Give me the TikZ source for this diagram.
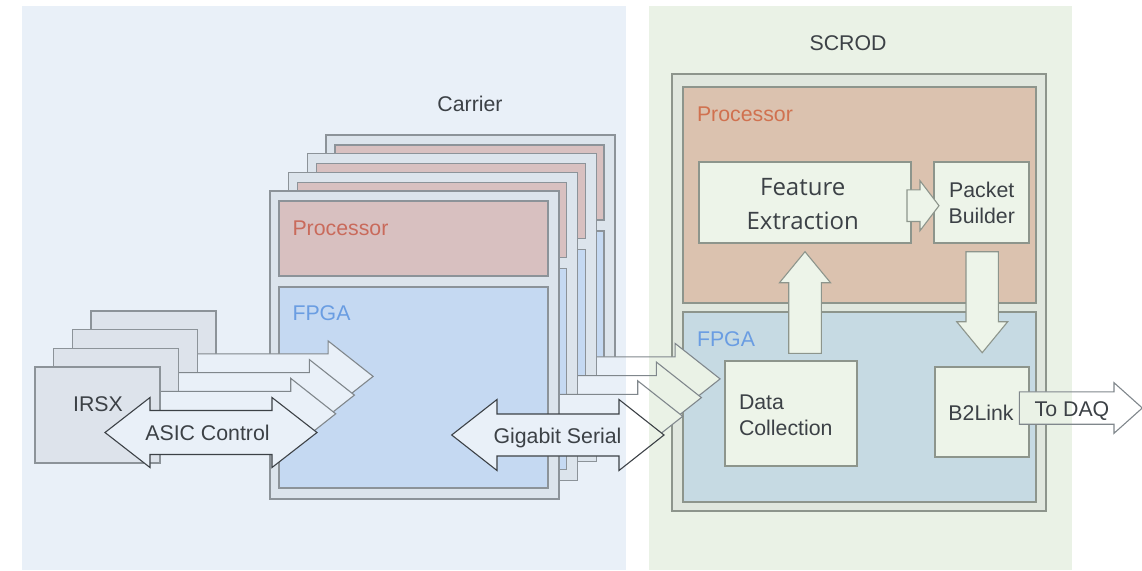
\documentclass[tikz,border=0pt]{standalone}
\usepackage{fontspec}
\setmainfont{Liberation Sans}
\newfontfamily\featfont{Open Sans}
\usetikzlibrary{fit}

\definecolor{bgblue}{HTML}{E9F0F8}
\definecolor{bggreen}{HTML}{EAF2E6}
\definecolor{boardfill}{HTML}{DCE4EC}
\definecolor{boardline}{HTML}{8C9399}
\definecolor{procfill}{HTML}{D8C0C0}
\definecolor{fpgafill}{HTML}{C5D9F2}
\definecolor{asicfill}{HTML}{DDE3EB}
\definecolor{scrodfill}{HTML}{E0E7DE}
\definecolor{scrodline}{HTML}{8D958C}
\definecolor{sprocfill}{HTML}{DBC2AF}
\definecolor{sfpgafill}{HTML}{C6DAE3}
\definecolor{blockfill}{HTML}{EDF4E9}
\definecolor{txt}{HTML}{3C4146}
\definecolor{proctxt}{HTML}{C96A5B}
\definecolor{sproctxt}{HTML}{D0714F}
\definecolor{fpgatxt}{HTML}{6A9DE2}
\definecolor{arrowline}{HTML}{80878C}
\definecolor{darkline}{HTML}{3C4146}

% right-pointing block arrow: tail x, head base x, tip x, centre y, half shaft, half head
\newcommand\blkR[7][]{%
  \draw[#1] (#2,#5-#6) -- (#3,#5-#6) -- (#3,#5-#7) -- (#4,#5) -- (#3,#5+#7)
    -- (#3,#5+#6) -- (#2,#5+#6) -- cycle;}
% double-headed block arrow: left tip, left base, right base, right tip, centre y, half shaft, half head
\newcommand\blkLR[8][]{%
  \draw[#1] (#2,#6) -- (#3,#6-#8) -- (#3,#6-#7) -- (#4,#6-#7) -- (#4,#6-#8) -- (#5,#6)
    -- (#4,#6+#8) -- (#4,#6+#7) -- (#3,#6+#7) -- (#3,#6+#8) -- cycle;}
% vertical block arrow: centre x, tail y, head base y, tip y, half shaft, half head
\newcommand\blkV[7][]{%
  \draw[#1] (#2-#6,#3) -- (#2-#6,#4) -- (#2-#7,#4) -- (#2,#5) -- (#2+#7,#4)
    -- (#2+#6,#4) -- (#2+#6,#3) -- cycle;}

\begin{document}
\begin{tikzpicture}[x=1pt, y=-1pt,
  every node/.style={inner sep=0pt, outer sep=0pt},
  panel/.style={draw=none},
  board/.style={draw=boardline, fill=boardfill, line width=1.3pt},
  proc/.style={draw=boardline, fill=procfill, line width=1.3pt},
  fpga/.style={draw=boardline, fill=fpgafill, line width=1.3pt},
  asic/.style={draw=boardline, fill=asicfill, line width=1.3pt},
  sbox/.style={draw=scrodline, line width=1.3pt},
  block/.style={draw=scrodline, fill=blockfill, line width=1.3pt},
  tinted/.style={fill=white, path picture={
      \fill[bgblue] (lp.north west) rectangle (lp.south east);
      \fill[bggreen] (rp.north west) rectangle (rp.south east);}},
  sarrow/.style={draw=arrowline, line width=1.1pt, line join=miter, tinted},
  darrow/.style={draw=darkline, line width=1.1pt, line join=miter, tinted},
  iarrow/.style={draw=scrodline, fill=blockfill, line width=1.1pt, line join=miter},
  lbl/.style={font=\fontsize{21.3}{26}\selectfont, text=txt},
  featlbl/.style={font=\featfont\fontsize{24}{34}\selectfont, text=txt},
]
\useasboundingbox (0,0) rectangle (1142,570);

% background panels
\node[panel, fill=bgblue, fit={(22,6) (626,570)}] (lp) {};
\node[panel, fill=bggreen, fit={(649,6) (1072,570)}] (rp) {};

% SCROD board
\node[sbox, fill=scrodfill, fit={(672,74) (1046,511)}] (scrod) {};
\node[sbox, fill=sprocfill, fit={(683,87) (1036,303)}] (sproc) {};
\node[sbox, fill=sfpgafill, fit={(683,312) (1036,502)}] (sfpga) {};
\node[block, fit={(699,162) (911,243)}] (fe) {};
\node[block, fit={(934,162) (1029,243)}] (pb) {};
\node[block, fit={(725,361) (857,466)}] (dc) {};
\node[block, fit={(935,367) (1029,457)}] (b2) {};
\blkR[iarrow]{907}{920}{939}{205.7}{15.8}{25}
\blkV[iarrow]{805}{353.3}{282.7}{251.7}{16.3}{25.5}
\blkV[iarrow]{982.2}{251.7}{321.7}{352.7}{16.2}{25.5}

% carrier boards, each with its serial link to the SCROD
\foreach \k in {3,2,1,0}{
  \pgfmathsetmacro\d{18.7*\k}
  \node[board, fit={(270+\d,191-\d) (559+\d,499-\d)}] (c\k) {};
  \node[proc, fit={(279+\d,201-\d) (548+\d,276-\d)}] (cp\k) {};
  \node[fpga, fit={(279+\d,287-\d) (548+\d,488-\d)}] (cf\k) {};
  \ifnum\k>0 \blkR[sarrow]{500+\d}{619+\d}{664+\d}{435-\d}{22}{35.5}\fi
}

% IRSX chips, each with its link to the carrier
\foreach \k in {3,2,1,0}{
  \pgfmathsetmacro\d{18.7*\k}
  \node[asic, fit={(35+\d,367-\d) (160+\d,463-\d)}] (ir\k) {};
  \ifnum\k>0 \blkR[sarrow]{121+\d}{272+\d}{317+\d}{432.5-\d}{22.5}{35.5}\fi
}

% bidirectional links
\blkLR[darrow]{105}{150}{272}{317}{432.5}{22}{35}
\blkLR[darrow]{451.7}{497}{619}{664}{435}{21}{35.5}
% output link
\blkR[sarrow]{1019.3}{1114}{1142.3}{408}{16.2}{25.3}

% labels
\node[lbl, anchor=base] (carrierlbl) at (470,111) {Carrier};
\node[lbl, anchor=base] (scrodlbl) at (848,50) {SCROD};
\node[lbl, text=proctxt, anchor=base west] (cproclbl) at (292.5,235) {Processor};
\node[lbl, text=fpgatxt, anchor=base west] (cfpgalbl) at (292.5,320.6) {FPGA};
\node[lbl, text=sproctxt, anchor=base west] (sproclbl) at (697,121) {Processor};
\node[lbl, text=fpgatxt, anchor=base west] (sfpgalbl) at (697,346.6) {FPGA};
\node[lbl, anchor=base] (irsxlbl) at (98,411.6) {IRSX};
\node[lbl, anchor=base] (asiclbl) at (207.5,440.3) {ASIC Control};
\node[lbl, anchor=base] (giglbl) at (557.5,443.6) {Gigabit Serial};
\node[lbl, anchor=base] (daqlbl) at (1072,416) {To DAQ};
\node[lbl, anchor=base] (b2lbl) at (981,420) {B2Link};
% multi-line labels: the base anchor sits on the last line
\node[lbl, anchor=base west, align=left] (dclbl) at (739,435) {Data\\Collection};
\node[lbl, anchor=base, align=center] (pblbl) at (981.7,223.3) {Packet\\Builder};
\node[featlbl, anchor=base, align=center] (felbl) at (802.7,229) {Feature\\Extraction};
\end{tikzpicture}
\end{document}
